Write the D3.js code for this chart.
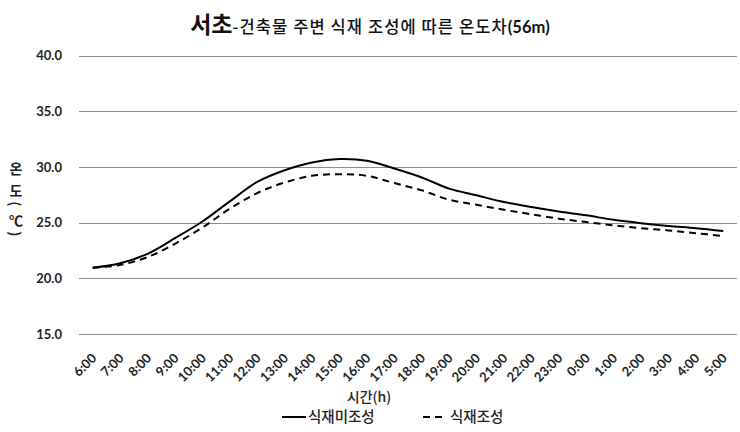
<!DOCTYPE html>
<html><head><meta charset="utf-8">
<script src="https://cdn.jsdelivr.net/npm/d3@7"></script>
<style>
body{margin:0;background:#fff;}
svg{display:block;}
</style></head>
<body>
<svg id="chart" width="740" height="432"></svg>
<script>
const categories = ["6:00","7:00","8:00","9:00","10:00","11:00","12:00","13:00","14:00","15:00","16:00","17:00","18:00","19:00","20:00","21:00","22:00","23:00","0:00","1:00","2:00","3:00","4:00","5:00"];
const noPlanting = [20.95,21.35,22.2,23.6,25.1,26.9,28.65,29.7,30.4,30.7,30.55,29.85,29.05,28.05,27.45,26.85,26.4,26.0,25.65,25.25,24.95,24.7,24.5,24.25];
const planting   = [20.95,21.2,21.9,23.1,24.55,26.25,27.65,28.6,29.2,29.35,29.2,28.55,27.9,27.05,26.6,26.15,25.75,25.35,25.05,24.75,24.5,24.3,24.05,23.8];
const yTicks = [15,20,25,30,35,40];
const seriesNames = ["식재미조성","식재조성"];
const yTitleParts = ["온","도","(","℃",")"];

const svg = d3.select("#chart");
const plotLeft = 79, plotRight = 737, plotTop = 55.5, plotBottom = 334;
const x = d3.scalePoint().domain(categories).range([plotLeft, plotRight]).padding(0.5);
const y = d3.scaleLinear().domain([15, 40]).range([plotBottom, plotTop]);
const numFont = "Lato, 'Noto Sans CJK KR', sans-serif";
const krFont = "'Noto Sans CJK KR', 'Noto Sans', sans-serif";

// gridlines
svg.append("g").selectAll("line").data(yTicks).join("line")
  .attr("x1", plotLeft).attr("x2", plotRight)
  .attr("y1", d => Math.round(y(d)) + 0.5).attr("y2", d => Math.round(y(d)) + 0.5)
  .attr("stroke", "#8c8c8c").attr("stroke-width", 1);

// y axis labels
const yAxis = d3.axisLeft(y).tickValues(yTicks).tickFormat(d3.format(".1f")).tickSize(0).tickPadding(0);
const yg = svg.append("g").attr("transform", `translate(62,0)`).call(yAxis);
yg.select(".domain").remove();
yg.selectAll("text").attr("font-family", numFont).attr("font-weight", "bold").attr("font-size", 13).attr("fill", "#222");

// x axis labels
const xAxis = d3.axisBottom(x).tickSize(0).tickPadding(0);
const xg = svg.append("g").attr("transform", `translate(0,${plotBottom})`).call(xAxis);
xg.select(".domain").remove();
xg.selectAll("text")
  .attr("font-family", numFont).attr("font-weight", "bold").attr("font-size", 13).attr("fill", "#222")
  .attr("text-anchor", "end").attr("dy", 0).attr("y", 0)
  .attr("transform", "translate(4,25) rotate(-45)");

// lines
const line = d3.line().x((d, i) => x(categories[i])).y(d => y(d)).curve(d3.curveCatmullRom.alpha(0.5));
svg.append("path").datum(noPlanting).attr("d", line).attr("fill", "none").attr("stroke", "#000").attr("stroke-width", 2);
svg.append("path").datum(planting).attr("d", line).attr("fill", "none").attr("stroke", "#000").attr("stroke-width", 2).attr("stroke-dasharray", "7,5");

// title
const title = svg.append("text").attr("x", 370).attr("y", 33).attr("text-anchor", "middle")
  .attr("font-family", krFont).attr("fill", "#111");
title.append("tspan").attr("font-size", 23).attr("font-weight", "bold").text("서초");
title.append("tspan").attr("font-size", 16.5).attr("font-weight", 500).attr("letter-spacing", 1.1).text("-건축물 주변 식재 조성에 따른 온도차");
title.append("tspan").attr("font-size", 16.5).attr("font-weight", "bold").attr("font-family", numFont).text("(56m)");

// y axis title (stacked characters)
const yt = svg.append("g");
const yPos = [168, 190, 204, 220, 234];
yt.selectAll("text").data(yTitleParts).join("text")
  .attr("transform", (d, i) => (d === "(" || d === ")") ? `translate(16,${yPos[i]}) rotate(90)` : `translate(16,${yPos[i]})`)
  .attr("text-anchor", "middle").attr("dominant-baseline", "central")
  .attr("font-family", krFont).attr("font-weight", "bold").attr("font-size", 14).attr("fill", "#222")
  .text(d => d);

// x axis title
svg.append("text").attr("x", 369).attr("y", 402).attr("text-anchor", "middle")
  .attr("font-family", krFont).attr("font-weight", 500).attr("font-size", 14).attr("fill", "#222")
  .text("시간(h)");

// legend
const lg = svg.append("g");
lg.append("line").attr("x1", 282).attr("x2", 306).attr("y1", 417).attr("y2", 417).attr("stroke", "#000").attr("stroke-width", 2);
lg.append("text").attr("x", 308).attr("y", 422).attr("font-family", krFont).attr("font-weight", 500).attr("font-size", 14.5).attr("fill", "#222").text(seriesNames[0]);
lg.append("line").attr("x1", 423).attr("x2", 445).attr("y1", 417).attr("y2", 417).attr("stroke", "#000").attr("stroke-width", 2).attr("stroke-dasharray", "7,5");
lg.append("text").attr("x", 450).attr("y", 422).attr("font-family", krFont).attr("font-weight", 500).attr("font-size", 14.5).attr("fill", "#222").text(seriesNames[1]);
</script>
</body></html>
